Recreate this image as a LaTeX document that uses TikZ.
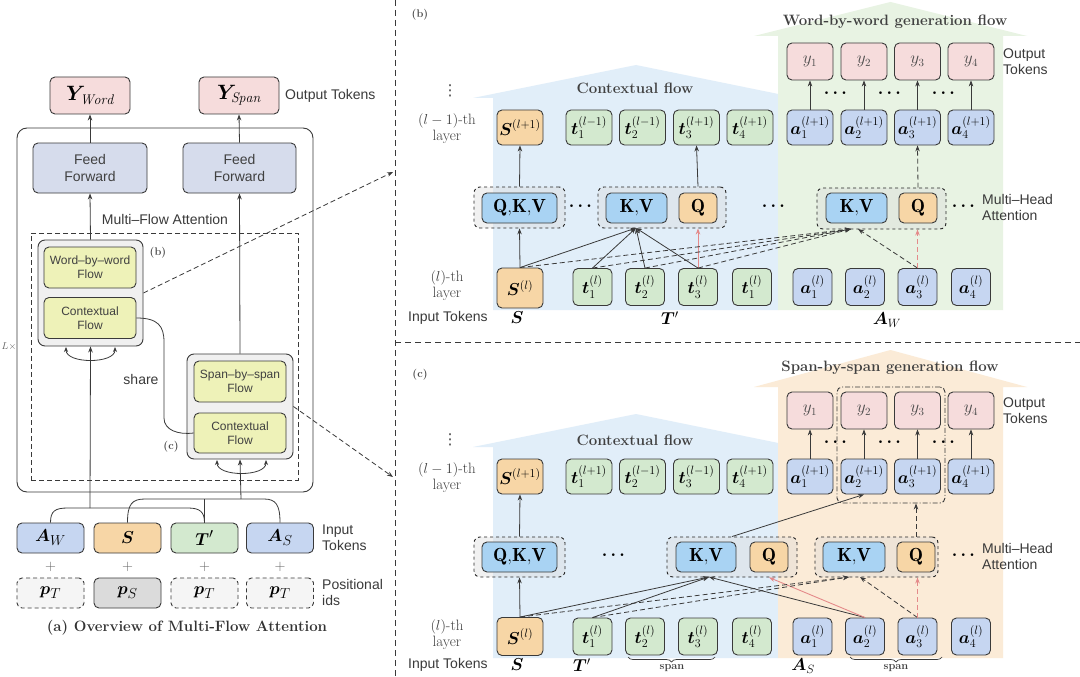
\documentclass[tikz,border=0pt]{standalone}
\usepackage{fontspec}
\setsansfont{Liberation Sans}
\newfontfamily\djv{DejaVu Sans}
\usepackage{amsmath}
\usepackage{bm}
\usetikzlibrary{arrows.meta,decorations.pathreplacing}
\definecolor{cpink}{HTML}{F6DCDC}
\definecolor{cblue}{HTML}{C6D6F1}
\definecolor{cff}{HTML}{D6DCEC}
\definecolor{corange}{HTML}{F7D6A6}
\definecolor{cgreen}{HTML}{D3E9CF}
\definecolor{csky}{HTML}{A9D3F3}
\definecolor{cyellow}{HTML}{EEF2B8}
\definecolor{bgblue}{HTML}{E1EEF9}
\definecolor{bggreen}{HTML}{E8F3E3}
\definecolor{bgpeach}{HTML}{FBEBD7}
\definecolor{cred}{HTML}{E48A8A}
\definecolor{ink}{HTML}{3A3A3A}
\begin{document}
\begin{tikzpicture}[x=1pt,y=-1pt,
  box/.style={draw=ink, line width=0.9pt, rounded corners=5pt, inner sep=0pt, align=center},
  tk/.style={box, minimum width=46pt, minimum height=35pt, font=\fontsize{17}{19}\selectfont},
  tkb/.style={box, minimum width=39pt, minimum height=37pt, font=\fontsize{17}{19}\selectfont},
  yb/.style={box, fill=cpink, minimum width=46pt, minimum height=37pt, font=\fontsize{16}{18}\selectfont, text=black!70},
  inb/.style={box, minimum width=67pt, minimum height=30pt, font=\fontsize{19}{21}\selectfont},
  pbox/.style={box, minimum width=67pt, minimum height=30pt, font=\fontsize{19}{21}\selectfont},
  ybox/.style={box, fill=cyellow, minimum width=92pt, minimum height=41pt, font=\sffamily\fontsize{12}{14}\selectfont, text=black!75},
  gbox/.style={draw=ink, line width=0.9pt, rounded corners=7pt, fill=gray!12, inner sep=0pt},
  grp/.style={draw=black!85, dashed, line width=0.9pt, rounded corners=6pt, fill=gray!30, fill opacity=0.35, inner sep=0pt},
  kvbox/.style={box, fill=csky, minimum height=30pt, font=\fontsize{19}{21}\selectfont},
  qbox/.style={box, fill=corange, minimum width=38pt, minimum height=30pt, font=\fontsize{19}{21}\selectfont},
  lab/.style={font=\sffamily\fontsize{14}{16}\selectfont, text=ink, inner sep=1pt},
  serlab/.style={font=\fontsize{15}{16}\selectfont, text=black!75, align=center, inner sep=0pt},
  vdt/.style={font=\djv\fontsize{15}{16}\selectfont, text=black!75, inner sep=0pt},
  ttl/.style={font=\bfseries\fontsize{15}{17}\selectfont, text=black!75},
  mlab/.style={font=\fontsize{17}{19}\selectfont, inner sep=0pt},
  dts/.style={font=\fontsize{16}{18}\selectfont, inner sep=0pt},
  tip/.style={-{Stealth[length=6pt,width=4.5pt]}},
  arr/.style={draw=ink, line width=0.8pt, tip},
  line/.style={draw=ink, line width=0.8pt},
  darr/.style={draw=ink, line width=0.8pt, dash pattern=on 5pt off 3pt, tip},
  parr/.style={draw=cred, line width=0.9pt, tip},
  pdarr/.style={draw=cred, line width=0.9pt, dash pattern=on 5pt off 3pt, tip},
  divider/.style={draw=ink, line width=0.8pt, dash pattern=on 6pt off 4pt},
  brc/.style={draw=ink, line width=0.7pt, decorate, decoration={brace, amplitude=5pt}}
]
\useasboundingbox (0,0) rectangle (1080,677);
\fill[white] (0,0) rectangle (1080,677);

% ================= backgrounds (b) and (c)
\fill[bgblue] (473,98) -- (636,65) -- (798,98) -- (778,98) -- (778,310) -- (493,310) -- (493,98) -- cycle;
\fill[bggreen] (754,36) -- (890.5,2) -- (1027,36) -- (1003,36) -- (1003,310) -- (778,310) -- (778,36) -- cycle;
\fill[bgblue] (473,447) -- (636,414) -- (798,447) -- (778,447) -- (778,658) -- (493,658) -- (493,447) -- cycle;
\fill[bgpeach] (754,387) -- (890.5,350) -- (1027,387) -- (1003,387) -- (1003,658) -- (778,658) -- (778,387) -- cycle;

% ================= dividers
\draw[divider] (395,0) -- (395,677);
\draw[divider] (395,342) -- (1080,342);

% ================= panel (a)
\node[box, fill=cpink, minimum width=80pt, minimum height=37pt, font=\fontsize{20}{22}\selectfont] (yw) at (90,95.5) {$\bm{Y}_{\mathit{Word}}$};
\node[box, fill=cpink, minimum width=80pt, minimum height=37pt, font=\fontsize{20}{22}\selectfont] (ys) at (239,95.5) {$\bm{Y}_{\mathit{Span}}$};
\node[lab, anchor=west] (otl) at (284,95.5) {Output Tokens};
\node[draw=ink, line width=0.9pt, rounded corners=10pt, minimum width=296pt, minimum height=364pt, inner sep=0pt] (outer) at (165,310) {};
\node[box, fill=cff, minimum width=114pt, minimum height=50pt, font=\sffamily\fontsize{14}{17}\selectfont, text=black!75] (ffl) at (90,168) {Feed\\Forward};
\node[box, fill=cff, minimum width=113pt, minimum height=50pt, font=\sffamily\fontsize{14}{17}\selectfont, text=black!75] (ffr) at (239.5,168) {Feed\\Forward};
\node[lab] (mfa) at (165,219) {Multi–Flow Attention};
\node[draw=ink, line width=0.9pt, dash pattern=on 5pt off 3pt, minimum width=267pt, minimum height=247pt, inner sep=0pt] (dbox) at (164.5,356.5) {};
\node[gbox, minimum width=105pt, minimum height=106pt] (gb) at (90.5,293) {};
\node[ybox] (wbw) at (90,267.5) {Word–by–word\\Flow};
\node[ybox] (cf1) at (90,318) {Contextual\\Flow};
\node[gbox, minimum width=106pt, minimum height=105pt] (gc) at (240,406.5) {};
\node[ybox] (sbs) at (240,381.5) {Span–by–span\\Flow};
\node[ybox, minimum height=40pt] (cf2) at (240,433) {Contextual\\Flow};
\node[font=\bfseries\fontsize{11}{13}\selectfont, text=black!70] (lbb) at (158,253) {(b)};
\node[font=\bfseries\fontsize{11}{13}\selectfont, text=black!70] (lbc) at (171,447) {(c)};
\node[font=\fontsize{10}{12}\selectfont, text=black!60] (lx) at (9,346) {$L\times$};
\node[lab] (share) at (141,379) {share};

\draw[arr] (ffl.north) -- (yw.south);
\draw[arr] (ffr.north) -- (ys.south);
\draw[arr] (gb.north) -- (ffl.south);
\draw[arr] (gc.north) -- (ffr.south);
\draw[line, {Stealth[length=5pt,width=4pt]}-{Stealth[length=5pt,width=4pt]}] (66,347) .. controls (66,364) and (115,364) .. (115,347);
\draw[line, {Stealth[length=5pt,width=4pt]}-{Stealth[length=5pt,width=4pt]}] (217,460) .. controls (217,477) and (266,477) .. (266,460);
\draw[line] (cf1.east) .. controls (158,318) and (164,326) .. (164,342) -- (164,418) .. controls (164,430) and (178,435) .. (cf2.west);

% inputs
\node[inb, fill=cblue] (aw) at (50.5,538) {$\bm{A}_{W}$};
\node[inb, fill=corange] (si) at (127.5,538) {$\bm{S}$};
\node[inb, fill=cgreen] (ti) at (204.5,538) {$\bm{T}'$};
\node[inb, fill=cblue] (asi) at (280,538) {$\bm{A}_{S}$};
\foreach \n/\x in {1/50.5,2/127.5,3/204.5,4/280} \node[font=\fontsize{15}{16}\selectfont, text=black!60] (pl\n) at (\x,567) {$+$};
\node[pbox, fill=gray!8, dash pattern=on 4pt off 3pt] (p1) at (50.5,593) {$\bm{p}_{T}$};
\node[pbox, fill=gray!28] (p2) at (127.5,593) {$\bm{p}_{S}$};
\node[pbox, fill=gray!8, dash pattern=on 4pt off 3pt] (p3) at (204.5,593) {$\bm{p}_{T}$};
\node[pbox, fill=gray!8, dash pattern=on 4pt off 3pt] (p4) at (280,593) {$\bm{p}_{T}$};
\node[lab, anchor=west, align=left] (itl) at (321,538) {Input\\Tokens};
\node[lab, anchor=west, align=left] (pil) at (321,592) {Positional\\ids};
\node[font=\bfseries\fontsize{15}{17}\selectfont, text=black!80] (cap) at (187,628) {(a) Overview of Multi-Flow Attention};

\coordinate (j1) at (90,508);
\coordinate (j2) at (241,499);
\draw[line] (aw.north) .. controls (50.5,511) and (55,508) .. (68,508) -- (188,508) .. controls (200,508) and (204.5,512) .. (ti.north);
\draw[line] (si.north) .. controls (127.5,504) and (132,499) .. (145,499) -- (264,499) .. controls (276,499) and (280,505) .. (asi.north);
\draw[line] (ti.north) -- (204.5,499);
\draw[arr] (j1) -- (gb.south);
\draw[arr] (j2) -- (gc.south);

\coordinate (tb) at (393,172);
\coordinate (tc) at (393,477);
\draw[darr] (gb.east) -- (tb);
\draw[darr] (gc.east) -- (tc);

% ================= panel (b)
\node[font=\bfseries\fontsize{11}{13}\selectfont, text=black!70] (lb2) at (420,15) {(b)};
\node[ttl] (wbwt) at (895,22) {Word-by-word generation flow};
\node[ttl] (cfbt) at (635,88) {Contextual flow};
\node[vdt] (vdb) at (450,91) {⋮};
\node[serlab] (l1b) at (447,129) {$(l-1)$-th\\layer};
\node[serlab] (l0b) at (447,286) {$(l)$-th\\layer};
\node[lab, anchor=west] (itb) at (407,318) {Input Tokens};
\node[mlab] (sbl) at (517,318) {$\bm{S}$};
\node[mlab] (tbl) at (670,318) {$\bm{T}'$};
\node[mlab] (abl) at (887,320) {$\bm{A}_{W}$};
\node[lab, anchor=west, align=left] (otb) at (1002,62) {Output\\Tokens};
\node[lab, anchor=west, align=left] (mhb) at (981,207) {Multi–Head\\Attention};

\foreach \i/\x in {1/810,2/864,3/917.5,4/971} \node[yb] (yb\i) at (\x,61.5) {$y_{\i}$};
\foreach \i/\x in {1/810,2/864,3/917.5,4/971} \node[tk, fill=cblue] (ab1\i) at (\x,127.5) {$\bm{a}_{\i}^{(l+1)}$};
\node[tk, fill=corange] (sb1) at (520,127.5) {$\bm{S}^{(l+1)}$};
\node[tk, fill=cgreen] (tb11) at (589,127.5) {$\bm{t}_{1}^{(l-1)}$};
\node[tk, fill=cgreen] (tb12) at (642.5,127.5) {$\bm{t}_{2}^{(l-1)}$};
\node[tk, fill=cgreen] (tb13) at (696.5,127.5) {$\bm{t}_{3}^{(l+1)}$};
\node[tk, fill=cgreen] (tb14) at (750,127.5) {$\bm{t}_{4}^{(l+1)}$};
\node[tk, fill=corange, minimum height=40pt] (sb0) at (520,288) {$\bm{S}^{(l)}$};
\node[tkb, fill=cgreen] (tb01) at (592.5,287) {$\bm{t}_{1}^{(l)}$};
\node[tkb, fill=cgreen] (tb02) at (645,287) {$\bm{t}_{2}^{(l)}$};
\node[tkb, fill=cgreen] (tb03) at (698,287) {$\bm{t}_{3}^{(l)}$};
\node[tkb, fill=cgreen] (tb04) at (752,287) {$\bm{t}_{1}^{(l)}$};
\foreach \i/\x in {1/812.5,2/865,3/917.5,4/971} \node[tkb, fill=cblue] (ab0\i) at (\x,287) {$\bm{a}_{\i}^{(l)}$};
\foreach \n/\x in {1/837,2/891,3/945} \node[dts] (dyb\n) at (\x,93) {$\bm{\cdots}$};

\node[grp, minimum width=91pt, minimum height=41pt] (gb1) at (519.5,207.5) {};
\node[kvbox, minimum width=75pt] (qkvb) at (519.5,208) {$\mathbf{Q{,}K{,}V}$};
\node[dts] (db1) at (582,206) {$\bm{\cdots}$};
\node[grp, minimum width=128pt, minimum height=41pt] (gb2) at (662,207.5) {};
\node[kvbox, minimum width=61pt] (kvb2) at (636.5,208) {$\mathbf{K{,}V}$};
\node[qbox] (qb2) at (698,208) {$\mathbf{Q}$};
\node[dts] (db2) at (775,206) {$\bm{\cdots}$};
\node[grp, minimum width=129pt, minimum height=41pt] (gb3) at (881.5,208.5) {};
\node[kvbox, minimum width=61pt] (kvb3) at (856.5,208) {$\mathbf{K{,}V}$};
\node[qbox] (qb3) at (918,208) {$\mathbf{Q}$};
\node[dts] (db3) at (965,206) {$\bm{\cdots}$};

\draw[arr] (sb0.north) -- (gb1.south);
\draw[arr] (gb1.north) -- (sb1.south);
\coordinate (kin2) at (636,228);
\draw[arr] (sb0.north) -- (kin2);
\draw[arr] (tb01.north) -- (kin2);
\draw[arr] (tb02.north) -- (kin2);
\draw[arr] (tb03.north) -- (kin2);
\draw[parr] (tb03.north) -- (tb03.north |- gb2.south);
\draw[arr] (gb2.north -| qb2) -- (tb13.south);
\coordinate (kin3) at (851,229);
\coordinate (kin3b) at (858,229);
\draw[darr] (sb0.north) -- (kin3);
\draw[darr] (tb01.north) -- (kin3);
\draw[darr] (tb02.north) -- (kin3);
\draw[darr] (tb03.north) -- (kin3);
\draw[darr] (ab03.north) -- (kin3b);
\draw[pdarr] (ab03.north) -- (ab03.north |- gb3.south);
\draw[darr] (gb3.north -| qb3) -- (ab13.south);
\foreach \i in {1,...,4} \draw[arr, line width=0.6pt] (ab1\i.north) -- (yb\i.south);

% ================= panel (c)
\node[font=\bfseries\fontsize{11}{13}\selectfont, text=black!70] (lc2) at (420,375) {(c)};
\node[ttl] (sbst) at (890,368) {Span-by-span generation flow};
\node[ttl] (cfct) at (635,440) {Contextual flow};
\node[vdt] (vdc) at (450,440) {⋮};
\node[serlab] (l1c) at (447,478) {$(l-1)$-th\\layer};
\node[serlab] (l0c) at (447,635) {$(l)$-th\\layer};
\node[lab, anchor=west] (itc) at (407,665) {Input Tokens};
\node[mlab] (scl) at (517,665) {$\bm{S}$};
\node[mlab] (tcl) at (582,665) {$\bm{T}'$};
\node[mlab] (acl) at (803,666) {$\bm{A}_{S}$};
\node[lab, anchor=west, align=left] (otc) at (1002,411) {Output\\Tokens};
\node[lab, anchor=west, align=left] (mhc) at (981,556) {Multi–Head\\Attention};

\node[draw=ink, line width=0.9pt, dash pattern=on 5pt off 2pt on 1pt off 2pt, rounded corners=5pt, minimum width=108pt, minimum height=116pt, inner sep=0pt] (ddb) at (891,445) {};

\foreach \i/\x in {1/810,2/864,3/917.5,4/971} \node[yb] (yc\i) at (\x,410.5) {$y_{\i}$};
\foreach \i/\x in {1/810,2/864,3/917.5,4/971} \node[tk, fill=cblue] (ac1\i) at (\x,476.5) {$\bm{a}_{\i}^{(l+1)}$};
\node[tk, fill=corange] (sc1) at (520,476.5) {$\bm{S}^{(l+1)}$};
\node[tk, fill=cgreen] (tc11) at (589,476.5) {$\bm{t}_{1}^{(l+1)}$};
\node[tk, fill=cgreen] (tc12) at (642.5,476.5) {$\bm{t}_{2}^{(l-1)}$};
\node[tk, fill=cgreen] (tc13) at (696.5,476.5) {$\bm{t}_{3}^{(l-1)}$};
\node[tk, fill=cgreen] (tc14) at (750,476.5) {$\bm{t}_{4}^{(l+1)}$};
\node[tk, fill=corange, minimum height=38pt] (sc0) at (520,636.5) {$\bm{S}^{(l)}$};
\node[tkb, fill=cgreen] (tc01) at (592.5,636.5) {$\bm{t}_{1}^{(l)}$};
\node[tkb, fill=cgreen] (tc02) at (645,636.5) {$\bm{t}_{2}^{(l)}$};
\node[tkb, fill=cgreen] (tc03) at (698,636.5) {$\bm{t}_{3}^{(l)}$};
\node[tkb, fill=cgreen] (tc04) at (752,636.5) {$\bm{t}_{4}^{(l)}$};
\foreach \i/\x in {1/812.5,2/865,3/917.5,4/971} \node[tkb, fill=cblue] (ac0\i) at (\x,636.5) {$\bm{a}_{\i}^{(l)}$};
\foreach \n/\x in {1/837,2/891,3/945} \node[dts] (dyc\n) at (\x,442) {$\bm{\cdots}$};

\node[grp, minimum width=91pt, minimum height=40pt] (gc1) at (519.5,557) {};
\node[kvbox, minimum width=75pt] (qkvc) at (519.5,557) {$\mathbf{Q{,}K{,}V}$};
\node[dts] (dc1) at (615,555) {$\bm{\cdots}$};
\node[grp, minimum width=130pt, minimum height=40pt] (gc2) at (732,557) {};
\node[kvbox, minimum width=60pt] (kvc2) at (706,557) {$\mathbf{K{,}V}$};
\node[qbox] (qc2) at (769,557) {$\mathbf{Q}$};
\node[grp, minimum width=123pt, minimum height=40pt] (gc3) at (876.5,557) {};
\node[kvbox, minimum width=62pt] (kvc3) at (854,557) {$\mathbf{K{,}V}$};
\node[qbox] (qc3) at (916,557) {$\mathbf{Q}$};
\node[dts] (dc3) at (965,555) {$\bm{\cdots}$};

\draw[arr] (sc0.north) -- (gc1.south);
\draw[arr] (gc1.north) -- (sc1.south);
\coordinate (kinc2) at (709,577);
\draw[arr] (sc0.north) -- (kinc2);
\draw[arr] (tc01.north) -- (kinc2);
\draw[arr] (ac02.north) -- (kinc2);
\draw[parr] (ac02.north) -- (qc2.center |- gc2.south);
\draw[arr] (gc2.north) -- (ac12.south);
\coordinate (kinc3) at (849,577);
\coordinate (kinc3b) at (860,577);
\draw[darr] (sc0.north) -- (kinc3);
\draw[darr] (tc01.north) -- (kinc3);
\draw[darr] (ac03.north) -- (kinc3b);
\draw[pdarr] (ac03.north) -- (ac03.north |- gc3.south);
\draw[darr] (gc3.north -| qc3) -- (ddb.south -| qc3);
\foreach \i in {1,...,4} \draw[arr, line width=0.6pt] (ac1\i.north) -- (yc\i.south);

\draw[brc] (715,657) -- (628,657);
\node[font=\bfseries\fontsize{11}{13}\selectfont, text=black!75] (sp1) at (672,668) {span};
\draw[brc] (942,657) -- (850,657);
\node[font=\bfseries\fontsize{11}{13}\selectfont, text=black!75] (sp2) at (896,668) {span};
\end{tikzpicture}
\end{document}
